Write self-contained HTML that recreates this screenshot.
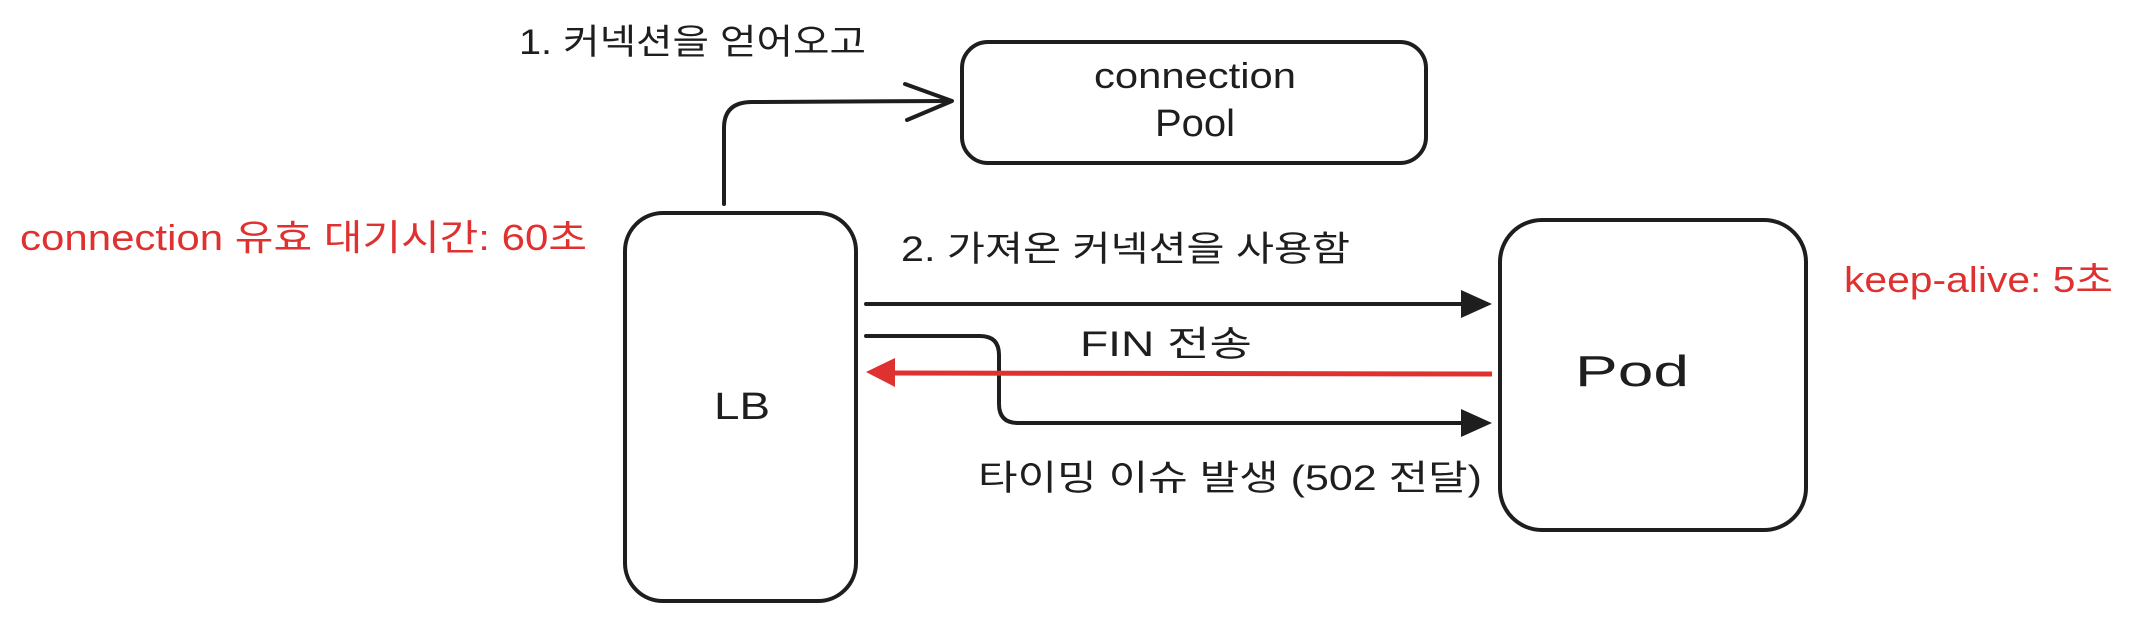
<!DOCTYPE html>
<html><head><meta charset="utf-8"><style>
html,body{margin:0;padding:0;background:#fff;width:2137px;height:619px;overflow:hidden}
svg{display:block}
text{font-family:"Liberation Sans","Noto Sans CJK KR",sans-serif;}
</style></head><body>
<svg width="2137" height="619" viewBox="0 0 2137 619" xmlns="http://www.w3.org/2000/svg">
<g fill="none" stroke="#1e1e1e" stroke-width="4" stroke-linecap="round" stroke-linejoin="round">
  <rect x="962" y="42" width="464" height="121" rx="26"/>
  <rect x="625" y="213" width="231" height="388" rx="38"/>
  <rect x="1500" y="220" width="306" height="310" rx="42"/>
  <path d="M724 204 L724 128 Q724 102 752 102 L950 101"/>
  <path d="M905 84 L952 101 L907 120"/>
  <path d="M866 304 L1465 304"/>
  <path d="M866 336 L980 336 Q999 336 999 355 L999 404 Q999 423 1018 423 L1465 423"/>
</g>
<g fill="#1e1e1e">
  <polygon points="1461,290 1492,304 1461,318"/>
  <polygon points="1461,409 1492,423 1461,437"/>
</g>
<path d="M1492 374 L890 373" stroke="#e03131" stroke-width="5" fill="none"/>
<polygon points="895,358 866,372 895,387" fill="#e03131"/>
<g font-size="35" fill="#1e1e1e">
  <text x="519" y="54" textLength="347" lengthAdjust="spacingAndGlyphs">1. 커넥션을 얻어오고</text>
  <text x="1094" y="88" textLength="202" lengthAdjust="spacingAndGlyphs" font-size="36">connection</text>
  <text x="1155" y="136" textLength="80" lengthAdjust="spacingAndGlyphs" font-size="38">Pool</text>
  <text x="901" y="261" textLength="449" lengthAdjust="spacingAndGlyphs">2. 가져온 커넥션을 사용함</text>
  <text x="1080" y="356" textLength="172" lengthAdjust="spacingAndGlyphs">FIN 전송</text>
  <text x="978" y="490" textLength="504" lengthAdjust="spacingAndGlyphs">타이밍 이슈 발생 (502 전달)</text>
  <text x="714" y="419" textLength="56" lengthAdjust="spacingAndGlyphs" font-size="38">LB</text>
  <text x="1575" y="386" textLength="114" lengthAdjust="spacingAndGlyphs" font-size="44">Pod</text>
</g>
<g font-size="36" fill="#e03131">
  <text x="20" y="250" textLength="567" lengthAdjust="spacingAndGlyphs">connection 유효 대기시간: 60초</text>
  <text x="1844" y="292" textLength="269" lengthAdjust="spacingAndGlyphs">keep-alive: 5초</text>
</g>
</svg>
</body></html>
